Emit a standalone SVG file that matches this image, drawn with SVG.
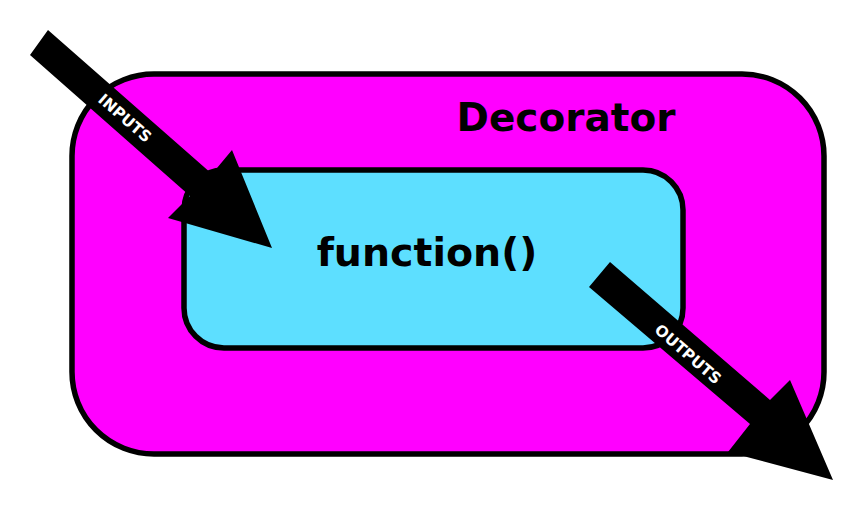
<svg xmlns="http://www.w3.org/2000/svg" width="853" height="508" viewBox="0 0 853 508">
<style>
.lbl{font-family:"DejaVu Sans",sans-serif;font-weight:bold;fill:#000}
.arr{font-family:"DejaVu Sans",sans-serif;font-weight:bold;fill:#fff;font-size:15.5px}
</style>
<rect width="853" height="508" fill="#fff"/>
<g id="decorator">
<rect x="72" y="74" width="752" height="380" rx="82" fill="#ff00ff" stroke="#000" stroke-width="5.5"/>
<text class="lbl" x="566" y="131" font-size="39" text-anchor="middle">Decorator</text>
</g>
<g id="function">
<rect x="184" y="170" width="499" height="178" rx="40" fill="#5ddfff" stroke="#000" stroke-width="5.5"/>
<text class="lbl" x="427" y="266" font-size="39.5" text-anchor="middle">function()</text>
</g>
<g id="connectors">
<g id="inputs">
<polygon points="48,30 212,174 232,150 272,248 168,218 190,196 30,55" fill="#000"/>
<text class="arr" transform="translate(125,118) rotate(41)" text-anchor="middle" dy="5.5">INPUTS</text>
</g>
<g id="outputs">
<polygon points="610,262 770,400 790,380 833,480 728,452 750,424 589,287" fill="#000"/>
<text class="arr" transform="translate(688,354) rotate(41)" text-anchor="middle" dy="5.5">OUTPUTS</text>
</g>
</g>
</svg>
